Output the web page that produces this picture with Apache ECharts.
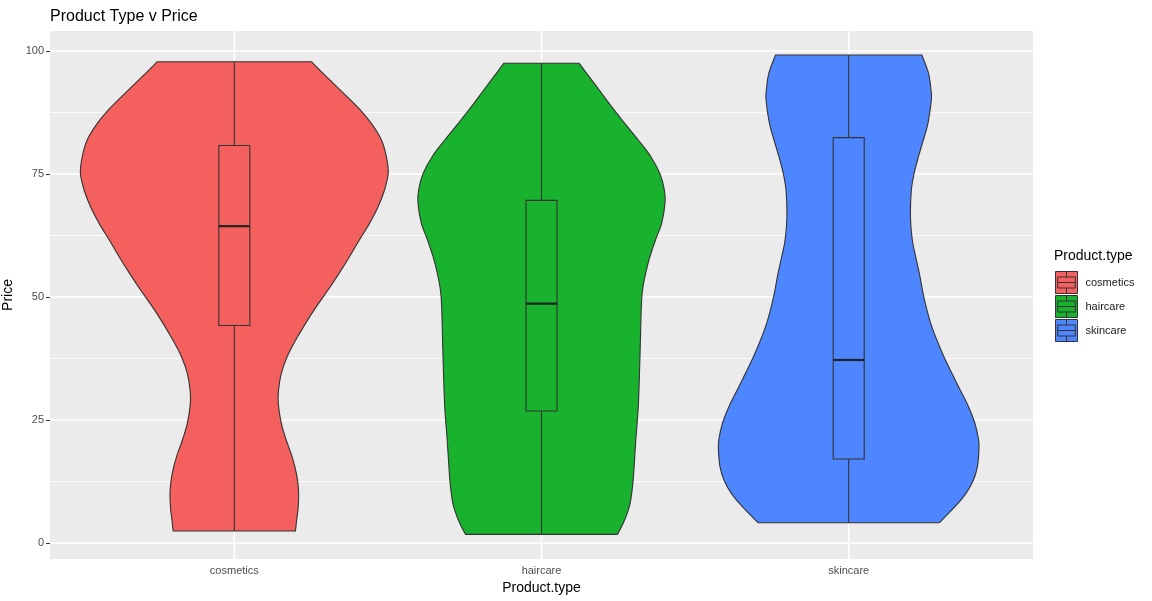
<!DOCTYPE html>
<html><head><meta charset="utf-8">
<script src="https://cdn.jsdelivr.net/npm/echarts@6/dist/echarts.min.js"></script>
<style>html,body{margin:0;padding:0;background:#fff}#c{width:1152px;height:601px}</style>
</head><body><div id="c"></div>
<script>
// ---- data ----
const categories = ['cosmetics', 'haircare', 'skincare'];
const colors = ['#F3605D', '#18B22E', '#4E86FF'];
const yTicks = [0, 25, 50, 75, 100];
const yMinorTicks = [12.5, 37.5, 62.5, 87.5];

// violin outlines: price levels and half-widths (in category units)
const cosmeticsPrice = [2.44, 4.67, 7.38, 10.77, 14.16, 17.55, 20.93, 24.32, 28.39, 31.10, 34.49, 37.87, 41.26, 44.65, 48.04, 51.42, 54.81, 58.20, 61.59, 64.97, 68.36, 71.75, 75.14, 78.52, 81.91, 85.30, 88.69, 92.07, 95.46, 97.83];
const cosmeticsHalfWidth = [0.199, 0.203, 0.208, 0.209, 0.202, 0.188, 0.169, 0.153, 0.143, 0.144, 0.153, 0.172, 0.200, 0.232, 0.267, 0.305, 0.341, 0.375, 0.407, 0.440, 0.468, 0.489, 0.501, 0.495, 0.479, 0.446, 0.400, 0.345, 0.289, 0.251];
const haircarePrice = [1.76, 4.00, 7.38, 10.77, 14.16, 20.93, 27.71, 34.49, 41.26, 48.04, 51.42, 54.81, 58.20, 61.59, 64.97, 69.04, 71.75, 75.14, 78.52, 81.91, 85.30, 88.69, 92.07, 95.46, 97.50];
const haircareHalfWidth = [0.247, 0.266, 0.286, 0.295, 0.300, 0.307, 0.315, 0.319, 0.322, 0.325, 0.329, 0.339, 0.353, 0.371, 0.391, 0.402, 0.400, 0.385, 0.356, 0.315, 0.271, 0.228, 0.188, 0.147, 0.123];
const skincarePrice = [4.13, 7.38, 10.09, 12.80, 15.51, 18.90, 20.93, 24.32, 27.71, 31.10, 34.49, 37.87, 41.26, 44.65, 48.04, 51.42, 54.81, 58.20, 61.59, 66.33, 71.75, 75.14, 78.52, 81.91, 85.30, 90.04, 92.07, 95.46, 99.19];
const skincareHalfWidth = [0.295, 0.346, 0.382, 0.406, 0.419, 0.424, 0.423, 0.411, 0.390, 0.363, 0.336, 0.310, 0.287, 0.267, 0.252, 0.240, 0.230, 0.218, 0.207, 0.201, 0.204, 0.213, 0.227, 0.243, 0.258, 0.269, 0.268, 0.260, 0.238];

// box stats: [lower whisker, Q1, median, Q3, upper whisker]
const cosmeticsBox = [2.44, 44.2, 64.4, 80.8, 97.83];
const haircareBox = [1.76, 26.83, 48.65, 69.65, 97.50];
const skincareBox = [4.13, 17.07, 37.2, 82.39, 99.19];

const groups = [
  { price: cosmeticsPrice, hw: cosmeticsHalfWidth, box: cosmeticsBox },
  { price: haircarePrice, hw: haircareHalfWidth, box: haircareBox },
  { price: skincarePrice, hw: skincareHalfWidth, box: skincareBox }
];
const BOX_HALF = 0.0505;
const LINE = '#333333';
const FONT = "'Liberation Sans', Arial, Helvetica, sans-serif";

function splineSeg(pts) {
  let d = '';
  const n = pts.length;
  for (let i = 0; i < n - 1; i++) {
    const p0 = pts[Math.max(i - 1, 0)], p1 = pts[i], p2 = pts[i + 1], p3 = pts[Math.min(i + 2, n - 1)];
    const c1 = [p1[0] + (p2[0] - p0[0]) / 6, p1[1] + (p2[1] - p0[1]) / 6];
    const c2 = [p2[0] - (p3[0] - p1[0]) / 6, p2[1] - (p3[1] - p1[1]) / 6];
    d += 'C' + c1[0] + ',' + c1[1] + ',' + c2[0] + ',' + c2[1] + ',' + p2[0] + ',' + p2[1];
  }
  return d;
}

function makeViolinSeries(k) {
  const g = groups[k];
  const cx = k + 1;
  return {
    name: categories[k],
    type: 'custom',
    coordinateSystem: 'cartesian2d',
    itemStyle: { color: colors[k] },
    data: [[cx, g.box[2]]],
    z: 3,
    renderItem: function (params, api) {
      const right = g.price.map((p, i) => api.coord([cx + g.hw[i], p]));
      const left = g.price.map((p, i) => api.coord([cx - g.hw[i], p])).reverse();
      let d = 'M' + right[0][0] + ',' + right[0][1] + splineSeg(right);
      d += 'L' + left[0][0] + ',' + left[0][1] + splineSeg(left) + 'Z';
      const b = g.box;
      const pLo = api.coord([cx, b[0]]), pQ1 = api.coord([cx, b[1]]), pMed = api.coord([cx, b[2]]),
            pQ3 = api.coord([cx, b[3]]), pHi = api.coord([cx, b[4]]);
      const xl = api.coord([cx - BOX_HALF, 0])[0], xr = api.coord([cx + BOX_HALF, 0])[0];
      return {
        type: 'group',
        children: [
          { type: 'path', shape: { pathData: d }, style: { fill: colors[k], stroke: LINE, lineWidth: 1.1 } },
          { type: 'line', shape: { x1: pHi[0], y1: pHi[1], x2: pQ3[0], y2: pQ3[1] }, style: { stroke: LINE, lineWidth: 1.1 } },
          { type: 'line', shape: { x1: pQ1[0], y1: pQ1[1], x2: pLo[0], y2: pLo[1] }, style: { stroke: LINE, lineWidth: 1.1 } },
          { type: 'rect', shape: { x: xl, y: pQ3[1], width: xr - xl, height: pQ1[1] - pQ3[1] }, style: { fill: colors[k], stroke: LINE, lineWidth: 1.1 } },
          { type: 'line', shape: { x1: xl, y1: pMed[1], x2: xr, y2: pMed[1] }, style: { stroke: '#222', lineWidth: 2.2 } }
        ]
      };
    }
  };
}

const gridSeries = {
  name: 'gridlines',
  type: 'custom',
  coordinateSystem: 'cartesian2d',
  silent: true,
  z: 1,
  data: [[2, 50]],
  renderItem: function (params, api) {
    const cs = params.coordSys;
    const children = [];
    yMinorTicks.forEach(v => {
      const y = api.coord([2, v])[1];
      children.push({ type: 'line', shape: { x1: cs.x, y1: y, x2: cs.x + cs.width, y2: y }, style: { stroke: '#fff', lineWidth: 0.8 } });
    });
    yTicks.forEach(v => {
      const y = api.coord([2, v])[1];
      children.push({ type: 'line', shape: { x1: cs.x, y1: y, x2: cs.x + cs.width, y2: y }, style: { stroke: '#fff', lineWidth: 1.6 } });
    });
    categories.forEach((c, i) => {
      const x = api.coord([i + 1, 0])[0];
      children.push({ type: 'line', shape: { x1: x, y1: cs.y, x2: x, y2: cs.y + cs.height }, style: { stroke: '#fff', lineWidth: 1.6 } });
    });
    return { type: 'group', children: children };
  }
};

const xPositions = categories.map((c, i) => i + 1);
const chart = echarts.init(document.getElementById('c'), null, { renderer: 'canvas' });
chart.setOption({
  animation: false,
  backgroundColor: '#ffffff',
  textStyle: { fontFamily: FONT },
  title: [
    { text: 'Product Type v Price', left: 45, top: 4, textStyle: { fontFamily: FONT, fontSize: 16, fontWeight: 'normal', color: '#000' } },
    { text: 'Product.type', left: 1054, top: 249, textStyle: { fontFamily: FONT, fontSize: 14, fontWeight: 'normal', color: '#000' }, padding: 0 }
  ],
  grid: { left: 50, right: 119, top: 31, bottom: 42, show: true, backgroundColor: '#EBEBEB', borderWidth: 0, containLabel: false, outerBoundsMode: 'none' },
  xAxis: {
    type: 'value', min: 0.4, max: 3.6,
    axisLine: { show: false },
    axisTick: { show: true, customValues: xPositions, length: 4, lineStyle: { color: LINE, width: 1 } },
    axisLabel: { customValues: xPositions, formatter: v => categories[Math.round(v) - 1] || '', color: '#4D4D4D', fontSize: 11, margin: 6, fontFamily: FONT },
    splitLine: { show: false },
    name: 'Product.type', nameLocation: 'middle', nameGap: 20,
    nameTextStyle: { color: '#000', fontSize: 14, fontFamily: FONT }
  },
  yAxis: {
    type: 'value', min: -3.25, max: 104.07,
    axisLine: { show: false },
    axisTick: { show: true, customValues: yTicks, length: 4, lineStyle: { color: LINE, width: 1 } },
    axisLabel: { customValues: yTicks, color: '#4D4D4D', fontSize: 11, margin: 6, fontFamily: FONT },
    splitLine: { show: false },
    name: 'Price', nameLocation: 'middle', nameGap: 33,
    nameTextStyle: { color: '#000', fontSize: 14, fontFamily: FONT }
  },
  legend: {
    data: categories,
    orient: 'vertical',
    left: 1055, top: 271,
    padding: 0,
    itemGap: 1,
    itemWidth: 22, itemHeight: 22,
    icon: 'path://M0,0H22V22H0Z M11,0V5.5 M2.2,5.5H19.8V16.5H2.2Z M2.2,11H19.8 M11,16.5V22',
    itemStyle: { borderColor: LINE, borderWidth: 1 },
    textStyle: { fontSize: 11, color: '#1A1A1A', fontFamily: FONT, padding: [0, 0, 0, 3] },
    selectedMode: false
  },
  series: [gridSeries, makeViolinSeries(0), makeViolinSeries(1), makeViolinSeries(2)]
});
</script>
</body></html>
